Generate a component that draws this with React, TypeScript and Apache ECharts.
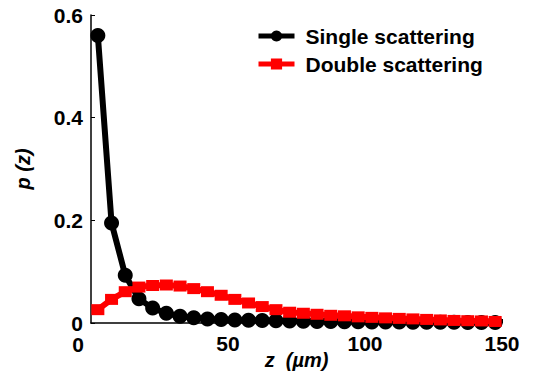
import React, { useEffect, useRef } from "react";
import * as echarts from "echarts";

const zValues = [2.5, 7.5, 12.5, 17.5, 22.5, 27.5, 32.5, 37.5, 42.5, 47.5, 52.5, 57.5, 62.5, 67.5, 72.5, 77.5, 82.5, 87.5, 92.5, 97.5, 102.5, 107.5, 112.5, 117.5, 122.5, 127.5, 132.5, 137.5, 142.5, 147.5];
const singleScattering = [0.56, 0.195, 0.093, 0.047, 0.029, 0.019, 0.013, 0.01, 0.008, 0.007, 0.006, 0.0055, 0.005, 0.0045, 0.004, 0.0035, 0.003, 0.003, 0.0025, 0.0025, 0.002, 0.002, 0.0018, 0.0016, 0.0015, 0.0014, 0.0013, 0.0012, 0.0011, 0.001];
const doubleScattering = [0.026, 0.046, 0.061, 0.07, 0.073, 0.074, 0.072, 0.067, 0.061, 0.054, 0.046, 0.039, 0.032, 0.026, 0.021, 0.019, 0.017, 0.015, 0.014, 0.012, 0.011, 0.01, 0.009, 0.008, 0.007, 0.006, 0.005, 0.0045, 0.004, 0.003];
const seriesNames = ["Single scattering", "Double scattering"];
const xTicks = [0, 50, 100, 150];
const yTicks = [0, 0.2, 0.4, 0.6];

const FONT = "'Liberation Sans', Arial, sans-serif";

export default function App() {
  const ref = useRef<HTMLDivElement>(null);
  useEffect(() => {
    if (!ref.current) return;
    const chart = echarts.init(ref.current, undefined, { renderer: "svg" });
    const single = zValues.map((z, i) => [z, singleScattering[i]]);
    const dbl = zValues.map((z, i) => [z, doubleScattering[i]]);
    chart.setOption({
      animation: false,
      backgroundColor: "#ffffff",
      grid: { left: 91, right: 31, top: 15, bottom: 54, containLabel: false, outerBoundsMode: "none" },
      legend: {
        orient: "vertical",
        left: 251,
        top: 20,
        itemWidth: 36,
        itemHeight: 14,
        itemGap: 6,
        data: seriesNames,
        lineStyle: { width: 5 },
        textStyle: {
          fontFamily: FONT,
          fontWeight: "bold",
          fontSize: 21,
          color: "#000",
          lineHeight: 22,
          padding: [0, 0, 0, 6],
        },
      },
      xAxis: {
        type: "value",
        min: xTicks[0],
        max: xTicks[xTicks.length - 1],
        interval: 50,
        name: "{i|z}{n|  (}{n|µ}{i|m)}",
        nameLocation: "middle",
        nameGap: 27,
        nameMoveOverlap: false,
        nameTextStyle: {
          rich: {
            i: { fontFamily: FONT, fontWeight: "bold", fontStyle: "italic", fontSize: 20, color: "#000" },
            n: { fontFamily: FONT, fontWeight: "bold", fontStyle: "italic", fontSize: 20, color: "#000" },
          },
        },
        axisLine: { show: true, lineStyle: { color: "#000", width: 1.5 } },
        axisTick: { show: true, inside: true, length: 4, lineStyle: { color: "#000" } },
        splitLine: { show: false },
        axisLabel: {
          showMinLabel: false,
          margin: 10,
          fontFamily: FONT,
          fontWeight: "bold",
          fontSize: 21,
          color: "#000",
        },
      },
      yAxis: {
        type: "value",
        min: yTicks[0],
        max: yTicks[yTicks.length - 1],
        interval: 0.2,
        name: "p (z)",
        nameLocation: "middle",
        nameGap: 58,
        nameRotate: 90,
        nameMoveOverlap: false,
        nameTextStyle: {
          fontFamily: FONT,
          fontWeight: "bold",
          fontStyle: "italic",
          fontSize: 20,
          color: "#000",
        },
        axisLine: { show: true, lineStyle: { color: "#000", width: 1.5 } },
        axisTick: { show: true, inside: true, length: 4, lineStyle: { color: "#000" } },
        splitLine: { show: false },
        axisLabel: {
          margin: 8,
          fontFamily: FONT,
          fontWeight: "bold",
          fontSize: 21,
          color: "#000",
          formatter: (v: number) => (v === 0 ? "0" : v.toFixed(1)),
        },
      },
      graphic: [
        {
          type: "text",
          x: 78,
          y: 344,
          style: {
            text: String(xTicks[0]),
            font: `bold 21px ${FONT}`,
            fill: "#000",
            align: "center",
            verticalAlign: "middle",
          },
        },
      ],
      series: [
        {
          name: seriesNames[0],
          type: "line",
          data: single,
          symbol: "circle",
          symbolSize: 15,
          showAllSymbol: true,
          lineStyle: { color: "#000", width: 6 },
          itemStyle: { color: "#000" },
          z: 2,
        },
        {
          name: seriesNames[1],
          type: "line",
          data: dbl,
          symbol: "rect",
          symbolSize: [13, 11],
          showAllSymbol: true,
          lineStyle: { color: "#ff0000", width: 6 },
          itemStyle: { color: "#ff0000" },
          z: 3,
        },
      ],
    });
    return () => chart.dispose();
  }, []);
  return <div ref={ref} style={{ width: 533, height: 377, position: "absolute", left: 0, top: 0 }} />;
}
